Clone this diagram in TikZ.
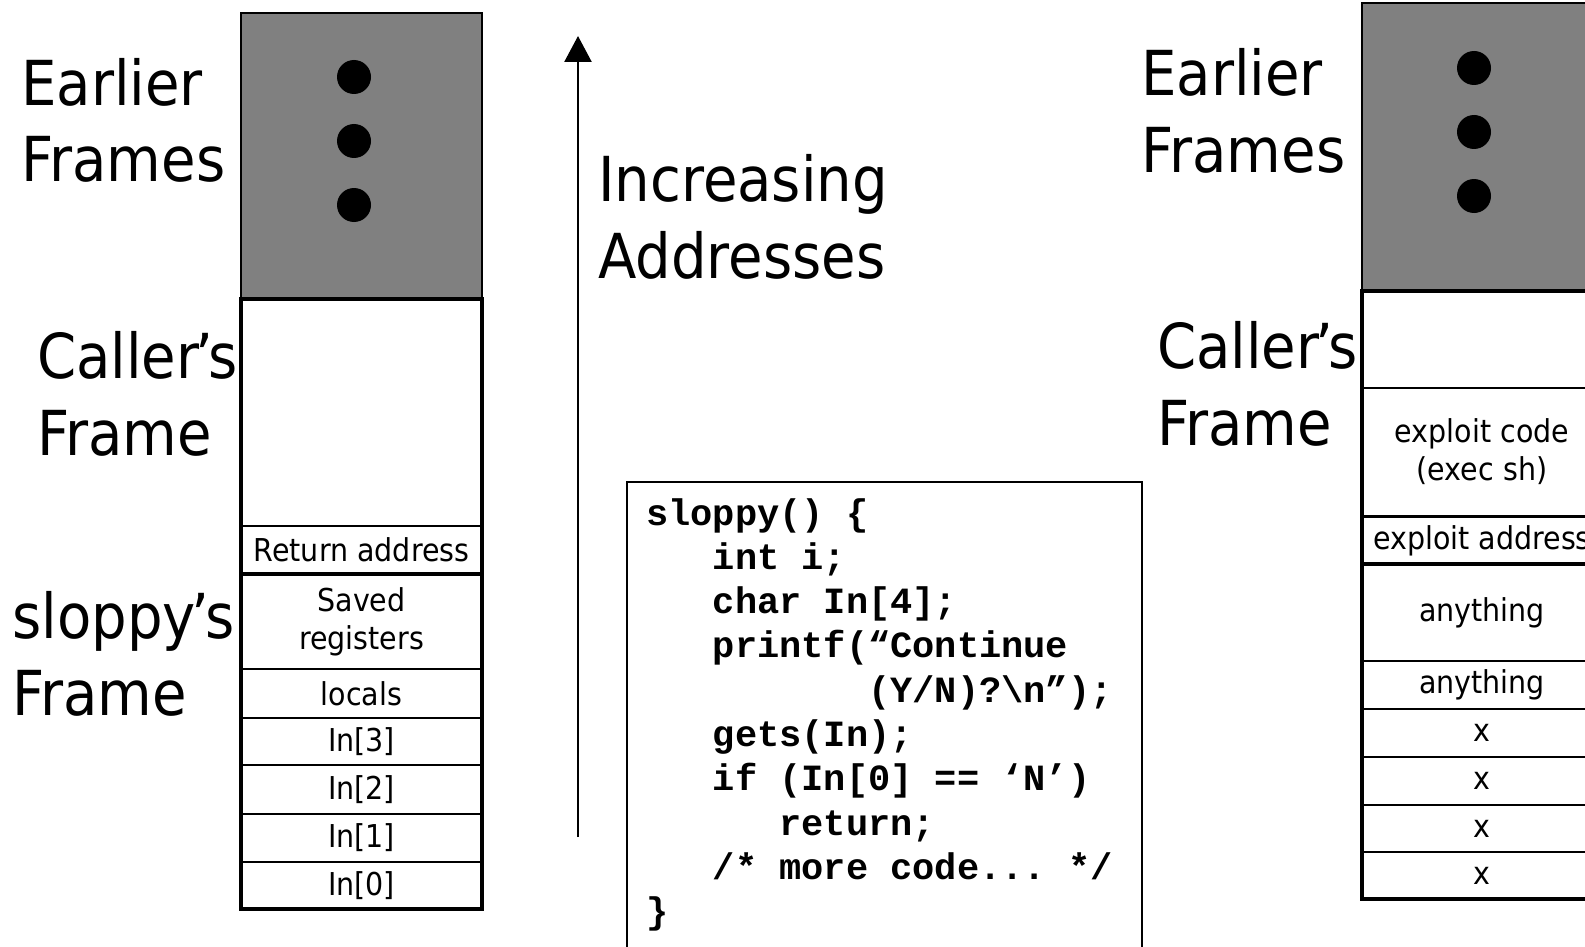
\documentclass[tikz,border=0pt]{standalone}
\usepackage{fontspec}
\newfontfamily\tah[FakeStretch=0.905]{DejaVu Sans}
\newfontfamily\codefont{Liberation Mono}
\usetikzlibrary{arrows.meta}
\definecolor{stackgray}{HTML}{808080}
\newcommand{\apos}{\kern-4pt’\kern-4.5pt}
\begin{document}
\begin{tikzpicture}[x=1pt,y=-1pt,
  cell/.style={draw, line width=2pt, inner sep=0pt, outer sep=0pt, align=center,
    font=\tah\fontsize{31.5}{38}\selectfont},
  lcell/.style={cell, minimum width=241pt},
  rcell/.style={cell, minimum width=240pt},
  grayblock/.style={draw, line width=2pt, fill=stackgray, inner sep=0pt, outer sep=0pt},
  biglabel/.style={inner sep=0pt, anchor=base west, align=left,
    font=\tah\fontsize{62}{77}\selectfont},
  thickframe/.style={draw, line width=4.5pt},
  dot/.style={circle, fill=black, minimum size=34pt, inner sep=0pt},
  codebox/.style={draw, line width=2.5pt},
  codetext/.style={inner sep=0pt, anchor=base west, align=left,
    font=\codefont\bfseries\fontsize{37}{44.3}\selectfont}]
\useasboundingbox (0,0) rectangle (1585,947);
\clip (0,0) rectangle (1585,947);

% ---------- left stack ----------
\node[grayblock, minimum width=241pt, minimum height=286pt] (earlyL) at (361.5,156) {};
\node[dot] (dl1) at (354,77) {};
\node[dot] (dl2) at (354,141) {};
\node[dot] (dl3) at (354,205) {};
\node[lcell, minimum height=48pt] (ret) at (361.5,550) {Return address};
\node[lcell, minimum height=95pt] (saved) at (361.5,621.5) {Saved\\registers};
\node[lcell, minimum height=49pt] (locals) at (361.5,693.5) {locals};
\node[lcell, minimum height=47pt] (in3) at (361.5,741.5) {In[3]};
\node[lcell, minimum height=49pt] (in2) at (361.5,789.5) {In[2]};
\node[lcell, minimum height=48pt] (in1) at (361.5,838) {In[1]};
\node[lcell, minimum height=47pt] (in0) at (361.5,885.5) {In[0]};
\draw[thickframe] (241,299) rectangle (482,574);
\draw[thickframe] (241,574) rectangle (482,909);

% base anchor = baseline of the last line
\node[biglabel] (lblEarlyL) at (21,182) {Earlier\\Frames};
\node[biglabel] (lblCallerL) at (37,455) {Caller\apos s\\Frame};
\node[biglabel] (lblSloppy) at (12,715) {sloppy\apos s\\Frame};

% ---------- arrow ----------
\coordinate (arrBot) at (578,837);
\coordinate (arrTop) at (578,36);
\draw[line width=2.5pt, -{Triangle[width=27pt,length=26pt]}] (arrBot) -- (arrTop);
\node[biglabel] (lblInc) at (598,278) {Increasing\\Addresses};

% ---------- code ----------
\draw[codebox] (627,482) rectangle (1142,980);
\node[codetext] (code) at (646,923.7) {%
sloppy()~\{\\
~~~int~i;\\
~~~char~In[4];\\
~~~printf(“Continue\\
~~~~~~~~~~(Y/N)?\textbackslash n”);\\
~~~gets(In);\\
~~~if~(In[0]~==~‘N’)\\
~~~~~~return;\\
~~~/*~more~code...~*/\\
\}};

% ---------- right stack ----------
\node[grayblock, minimum width=240pt, minimum height=288pt] (earlyR) at (1482,147) {};
\node[dot] (dr1) at (1474,68) {};
\node[dot] (dr2) at (1474,132) {};
\node[dot] (dr3) at (1474,196) {};
\node[rcell, minimum height=128pt] (expcode) at (1482,452) {exploit code\\(exec sh)};
\node[rcell, minimum height=48pt] (expaddr) at (1482,541) {exploit address};
\node[rcell, minimum height=97pt] (any1) at (1482,612.5) {anything};
\node[rcell, minimum height=48pt] (any2) at (1482,685) {anything};
\node[rcell, minimum height=48pt] (x3) at (1482,733) {x};
\node[rcell, minimum height=48pt] (x2) at (1482,781) {x};
\node[rcell, minimum height=47pt] (x1) at (1482,828.5) {x};
\node[rcell, minimum height=47pt] (x0) at (1482,875.5) {x};
\draw[thickframe] (1362,291) rectangle (1602,564);
\draw[thickframe] (1362,564) rectangle (1602,899);

\node[biglabel] (lblEarlyR) at (1141,172) {Earlier\\Frames};
\node[biglabel] (lblCallerR) at (1157,445) {Caller\apos s\\Frame};
\end{tikzpicture}
\end{document}
